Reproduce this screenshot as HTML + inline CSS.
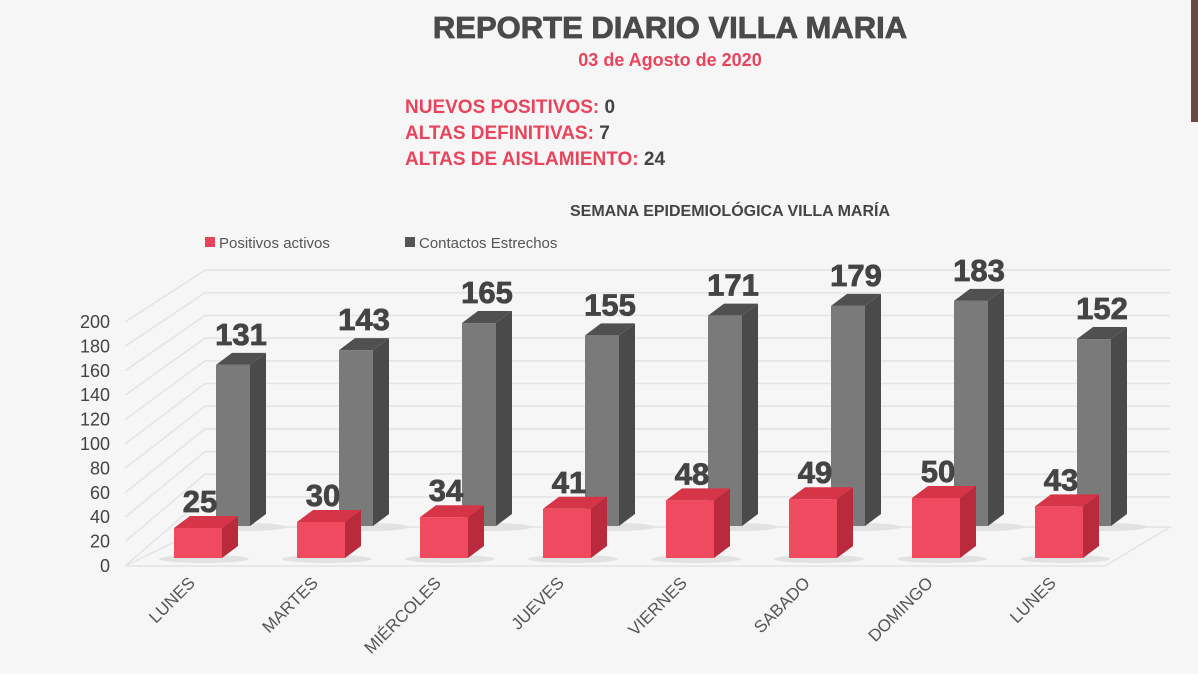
<!DOCTYPE html>
<html><head><meta charset="utf-8"><style>
body{margin:0;background:#f6f6f6;}
svg{display:block;font-family:"Liberation Sans",sans-serif;}
.b{font-weight:bold;}
</style></head><body>
<svg width="1198" height="674" viewBox="0 0 1198 674">
<rect width="1198" height="674" fill="#f6f6f6"/>
<rect x="1191" y="0" width="7" height="122" fill="#6a4a40"/>
<text x="670" y="38" text-anchor="middle" class="b" font-size="31" fill="#4a4a4a" stroke="#4a4a4a" stroke-width="0.8">REPORTE DIARIO VILLA MARIA</text>
<text x="670" y="66" text-anchor="middle" class="b" font-size="18" fill="#e8445c">03 de Agosto de 2020</text>
<text x="405" y="113" class="b" font-size="19" fill="#e8445c">NUEVOS POSITIVOS: <tspan fill="#444">0</tspan></text>
<text x="405" y="139" class="b" font-size="19" fill="#e8445c">ALTAS DEFINITIVAS: <tspan fill="#444">7</tspan></text>
<text x="405" y="165" class="b" font-size="19" fill="#e8445c">ALTAS DE AISLAMIENTO: <tspan fill="#444">24</tspan></text>
<text x="730" y="216" text-anchor="middle" class="b" font-size="16" fill="#444">SEMANA EPIDEMIOLÓGICA VILLA MARÍA</text>
<rect x="205" y="237" width="10" height="10" fill="#e8445c"/>
<text x="219" y="248" font-size="15" fill="#555">Positivos activos</text>
<rect x="405" y="237" width="10" height="10" fill="#555"/>
<text x="419" y="248" font-size="15" fill="#555">Contactos Estrechos</text>
<g stroke="#e4e4e4" stroke-width="1.5" fill="none">
<g id="grid"></g>
</g>
<g id="ylab" font-size="18" fill="#444" text-anchor="end"></g>
<g id="bars"></g>
<g id="xlab" font-size="17" fill="#555"></g>
</svg>
<script>
var ns="http://www.w3.org/2000/svg";
function el(p,t,a,txt){var e=document.createElementNS(ns,t);for(var k in a)e.setAttribute(k,a[k]);if(txt!=null)e.textContent=txt;document.getElementById(p).appendChild(e);return e;}
for(var i=0;i<=10;i++){var v=i*20;var yf=566-v*1.22,yb=527-v*1.22*0.93-30;
el("grid","polyline",{points:"125,"+yf+" 205,"+(yb)+" 1170,"+(yb)});
el("ylab","text",{x:110,y:yf+6},String(v));}
el("grid","polyline",{points:"125,566 205,527 1170,527 1105,566 125,566"});
var g=[131,143,165,155,171,179,183,152],r=[25,30,34,41,48,49,50,43];
var names=["LUNES","MARTES","MIÉRCOLES","JUEVES","VIERNES","SABADO","DOMINGO","LUNES"];
function bar(x,w,bot,h,d,front,side,top){
 el("bars","polygon",{points:(x+w)+","+(bot-h)+" "+(x+w+d)+","+(bot-h-d*0.75)+" "+(x+w+d)+","+(bot-d*0.75)+" "+(x+w)+","+bot,fill:side});
 el("bars","polygon",{points:x+","+(bot-h)+" "+(x+d)+","+(bot-h-d*0.75)+" "+(x+w+d)+","+(bot-h-d*0.75)+" "+(x+w)+","+(bot-h),fill:top});
 el("bars","rect",{x:x,y:bot-h,width:w,height:h,fill:front});}
for(var i=0;i<8;i++){
 var gx=216+i*123,h=g[i]*1.23;
 el("bars","ellipse",{cx:gx+30,cy:527,rx:40,ry:4,fill:"#e2e2e2"});
 bar(gx,34,526,h,16,"#7a7a7a","#4a4a4a","#505050");
 el("bars","text",{x:gx+25,y:526-h-20,"text-anchor":"middle","font-size":31,"font-weight":"bold",fill:"#444",stroke:"#444","stroke-width":0.8},g[i]);
 var rx=174+i*123,rh=r[i]*1.2;
 el("bars","ellipse",{cx:rx+30,cy:559,rx:45,ry:4,fill:"#e2e2e2"});
 bar(rx,48,558,rh,16,"#f04a60","#b82a3c","#d63548");
 el("bars","text",{x:rx+26,y:558-rh-16,"text-anchor":"middle","font-size":31,"font-weight":"bold",fill:"#444",stroke:"#444","stroke-width":0.8},r[i]);
 var lx=rx+22,ly=584;
 el("xlab","text",{x:lx,y:ly,"text-anchor":"end",transform:"rotate(-45 "+lx+" "+ly+")"},names[i]);
}
</script>
</body></html>
